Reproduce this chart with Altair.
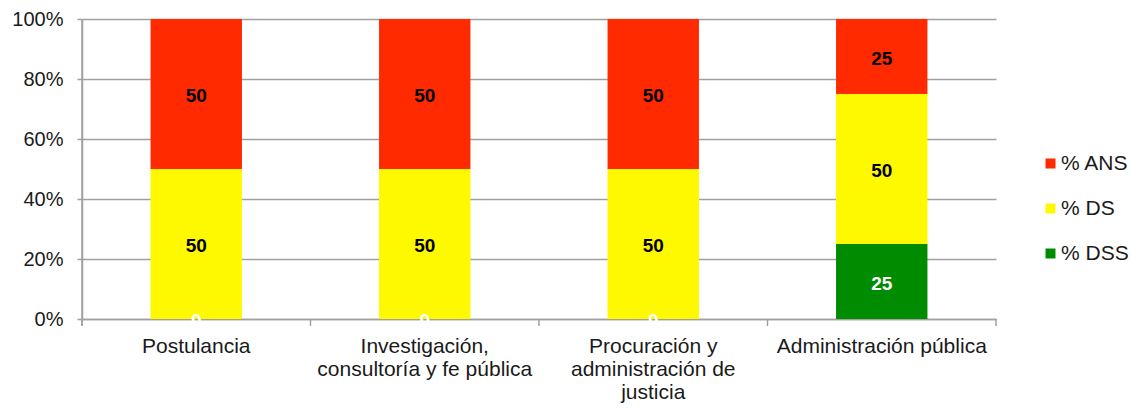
import altair as alt
import pandas as pd

# Categories (use "|" to break axis labels into lines)
categories = [
    "Postulancia",
    "Investigación,|consultoría y fe pública",
    "Procuración y|administración de|justicia",
    "Administración pública",
]
series = ["% ANS", "% DS", "% DSS"]
colors = ["#FF2A00", "#FFF900", "#008C00"]

pct_ans = [50, 50, 50, 25]
pct_ds = [50, 50, 50, 50]
pct_dss = [0, 0, 0, 25]

# Stacking order from the bottom: DSS, DS, ANS
stack_rank = {"% DSS": 0, "% DS": 1, "% ANS": 2}

rows = []
for i, cat in enumerate(categories):
    for name, vals in (("% ANS", pct_ans), ("% DS", pct_ds), ("% DSS", pct_dss)):
        rows.append({"cat": cat, "serie": name, "valor": vals[i], "rank": stack_rank[name]})
df = pd.DataFrame(rows)

FONT = "Liberation Sans"
TXT = "#1a1a1a"
GRAY = "#a0a0a0"
W, H = 914, 300

x_enc = alt.X(
    "cat:N",
    sort=categories,
    scale=alt.Scale(paddingInner=0, paddingOuter=0),
    axis=alt.Axis(
        title=None,
        labelExpr="split(datum.label, '|')",
        labelAngle=0,
        labelFontSize=21,
        labelFont=FONT,
        labelColor=TXT,
        labelLineHeight=23,
        labelPadding=16,
        labelLimit=0,
        ticks=False,
        domainColor=GRAY,
        domainWidth=1.5,
        grid=False,
    ),
)

y_scale = alt.Scale(domain=[0, 100], nice=False)

base = alt.Chart(df).transform_stack(
    stack="valor", groupby=["cat"], sort=[alt.SortField("rank", order="ascending")], as_=["y0", "y1"]
).transform_calculate(mid="(datum.y0 + datum.y1) / 2")

bars = base.mark_bar(width=alt.RelativeBandSize(0.4)).encode(
    x=x_enc,
    y=alt.Y(
        "y0:Q",
        scale=y_scale,
        axis=alt.Axis(
            title=None,
            values=[0, 20, 40, 60, 80, 100],
            labelExpr="datum.value + '%'",
            labelFontSize=20,
            labelFont=FONT,
            labelColor=TXT,
            labelPadding=14,
            tickSize=5,
            tickColor=GRAY,
            tickWidth=1.5,
            gridColor=GRAY,
            gridWidth=1.5,
            domainColor=GRAY,
            domainWidth=1.5,
        ),
    ),
    y2="y1:Q",
    color=alt.Color(
        "serie:N",
        scale=alt.Scale(domain=series, range=colors),
        legend=alt.Legend(
            title=None,
            orient="none",
            legendX=958,
            legendY=134,
            symbolType="square",
            symbolSize=100,
            symbolStrokeWidth=0,
            labelFontSize=21,
            labelFont=FONT,
            labelColor=TXT,
            labelOffset=0,
            rowPadding=23,
        ),
    ),
)

labels = base.mark_text(fontSize=19, fontWeight="bold", font=FONT, dy=2).encode(
    x=alt.X("cat:N", sort=categories),
    y=alt.Y("mid:Q", scale=y_scale),
    text=alt.Text("valor:Q"),
    color=alt.condition(
        alt.datum.serie == "% DSS", alt.value("white"), alt.value("black")
    ),
)

# Boundary ticks on the category axis
ticks = alt.Chart(pd.DataFrame({"cat": categories})).mark_rule(
    color=GRAY, strokeWidth=1.5
).encode(
    x=alt.X("cat:N", sort=categories, bandPosition=0),
    y=alt.value(H),
    y2=alt.value(H + 7),
)
end_tick = alt.Chart(pd.DataFrame({"cat": [categories[-1]]})).mark_rule(
    color=GRAY, strokeWidth=1.5
).encode(
    x=alt.X("cat:N", sort=categories, bandPosition=1),
    y=alt.value(H),
    y2=alt.value(H + 7),
)
left_ext = alt.Chart(pd.DataFrame({"cat": [categories[0]]})).mark_rule(
    color=GRAY, strokeWidth=1.5
).encode(
    x=alt.X("cat:N", sort=categories, bandPosition=0),
    y=alt.value(0),
    y2=alt.value(H + 7),
)

chart = (
    alt.layer(bars, ticks, end_tick, left_ext, labels)
    .properties(
        width=W,
        height=H,
        autosize=alt.AutoSizeParams(type="none"),
        padding={"left": 82, "top": 19, "right": 137, "bottom": 92},
        background="white",
    )
    .configure_view(stroke=None)
)

chart.save("out.html", embed_options={"renderer": "svg", "actions": False})
